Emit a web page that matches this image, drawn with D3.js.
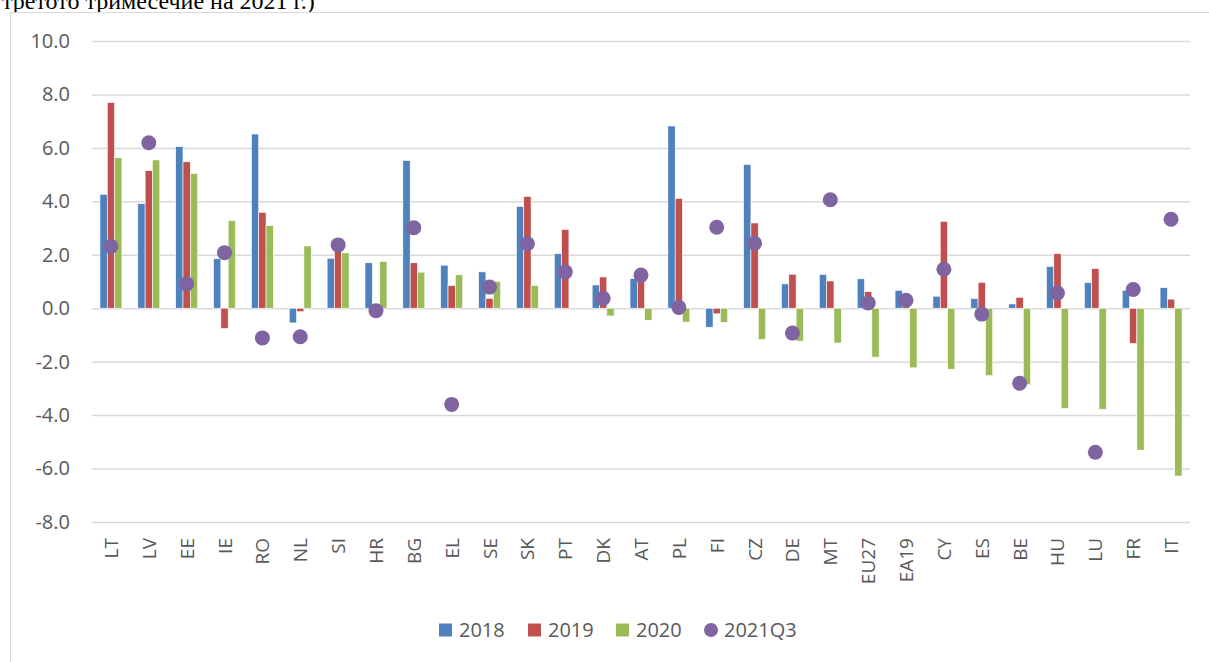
<!DOCTYPE html>
<html>
<head>
<meta charset="utf-8">
<script src="https://cdn.jsdelivr.net/npm/d3@7"></script>
<style>
  body { margin: 0; background: #fff; }
  svg { display: block; }
</style>
</head>
<body>
<svg width="1209" height="662"></svg>
<script>
// categories and series
const countries = ['LT','LV','EE','IE','RO','NL','SI','HR','BG','EL','SE','SK','PT','DK','AT','PL','FI','CZ','DE','MT','EU27','EA19','CY','ES','BE','HU','LU','FR','IT'];
const v2018 = [4.26,3.91,6.05,1.85,6.52,-0.55,1.87,1.70,5.53,1.61,1.36,3.81,2.04,0.87,1.11,6.82,-0.71,5.38,0.91,1.26,1.10,0.67,0.45,0.36,0.16,1.56,0.96,0.67,0.77];
const v2019 = [7.70,5.15,5.48,-0.76,3.59,-0.13,2.20,0.02,1.70,0.85,0.37,4.18,2.95,1.17,1.15,4.11,-0.21,3.19,1.27,1.02,0.62,0.50,3.25,0.97,0.41,2.04,1.48,-1.32,0.34];
const v2020 = [5.63,5.55,5.04,3.28,3.09,2.33,2.07,1.75,1.35,1.25,1.00,0.85,0.00,-0.29,-0.45,-0.52,-0.53,-1.17,-1.23,-1.30,-1.83,-2.23,-2.28,-2.52,-2.86,-3.75,-3.78,-5.31,-6.28];
const v2021q3 = [2.31,6.19,0.91,2.08,-1.11,-1.07,2.37,-0.09,3.01,-3.60,0.79,2.41,1.36,0.37,1.24,0.03,3.03,2.43,-0.93,4.06,0.20,0.30,1.46,-0.22,-2.81,0.57,-5.39,0.70,3.33];
const yTicks = [-8,-6,-4,-2,0,2,4,6,8,10];
const barSeries = ['2018','2019','2020'];
const dotSeries = '2021Q3';

const colors = {'2018':'#4f81bd','2019':'#c0504d','2020':'#9bbb59','2021Q3':'#8064a2'};

const svg = d3.select('svg');

// caption from the page above the chart (only its lower half shows)
svg.append('text')
    .attr('x', 2).attr('y', 9)
    .attr('font-family', '"Liberation Serif", serif')
    .attr('font-size', 24)
    .attr('fill', '#000')
    .text('третото тримесечие на 2021 г.)');

// chart frame
svg.append('rect')
    .attr('x', 10.5).attr('y', 12.5)
    .attr('width', 1250).attr('height', 700)
    .attr('fill', '#fff')
    .attr('stroke', '#d9d9d9');

const plot = {left: 92, right: 1190, top: 41, bottom: 522};

const x0 = d3.scaleBand().domain(countries).range([plot.left, plot.right]);
const bw = x0.bandwidth();
const gw = bw * 0.58;
const x1 = d3.scaleBand().domain(barSeries).range([(bw - gw) / 2, (bw + gw) / 2]);
const y = d3.scaleLinear().domain([-8, 10]).range([plot.bottom, plot.top]);

const font = '"Open Sans", sans-serif';
// plain hyphen for negatives, like the original
const fmt = d => d3.format('.1f')(d).replace('\u2212', '-');

// gridlines + y labels
const yAxis = svg.append('g')
    .attr('transform', `translate(${plot.left},0)`)
    .call(d3.axisLeft(y).tickValues(yTicks).tickSize(-(plot.right - plot.left)).tickPadding(22).tickFormat(fmt));
yAxis.select('.domain').remove();
yAxis.selectAll('.tick line').attr('stroke', '#d9d9d9').attr('stroke-width', 1.5);
yAxis.selectAll('.tick text')
    .attr('font-family', font).attr('font-size', 20).attr('fill', '#595959');

// bars
const rows = countries.map((c, i) => ({c, vals: [v2018[i], v2019[i], v2020[i]]}));
const groups = svg.append('g').selectAll('g').data(rows).enter().append('g')
    .attr('transform', d => `translate(${x0(d.c)},0)`);
groups.selectAll('rect')
    .data(d => d.vals.map((v, k) => ({s: barSeries[k], v})))
    .enter().append('rect')
    .attr('x', d => x1(d.s))
    .attr('width', x1.bandwidth())
    .attr('y', d => y(Math.max(0, d.v)))
    .attr('height', d => Math.abs(y(d.v) - y(0)))
    .attr('fill', d => colors[d.s])
    .attr('stroke', '#fff').attr('stroke-width', 0.6);

// 2021Q3 dots
svg.append('g').selectAll('circle').data(countries).enter().append('circle')
    .attr('cx', (d, i) => x0(d) + bw / 2)
    .attr('cy', (d, i) => y(v2021q3[i]))
    .attr('r', 7.5)
    .attr('fill', colors[dotSeries]);

// category labels, vertical
svg.append('g').selectAll('text').data(countries).enter().append('text')
    .attr('transform', d => `translate(${x0(d) + bw / 2 + 7},538) rotate(-90)`)
    .attr('text-anchor', 'end')
    .attr('font-family', font).attr('font-size', 19).attr('fill', '#595959')
    .text(d => d);

// legend
const legendItems = [...barSeries, dotSeries];
const legendX = [439, 528, 616, 704];
const lg = svg.append('g').selectAll('g').data(legendItems).enter().append('g')
    .attr('transform', (d, i) => `translate(${legendX[i]},630)`);
lg.each(function(d) {
    const g = d3.select(this);
    if (d === dotSeries) {
        g.append('circle').attr('cx', 7).attr('cy', 0).attr('r', 7).attr('fill', colors[d]);
    } else {
        g.append('rect').attr('x', 0).attr('y', -6.5).attr('width', 13).attr('height', 13).attr('fill', colors[d]);
    }
    g.append('text').attr('x', 20).attr('y', 7)
        .attr('font-family', font).attr('font-size', 20).attr('fill', '#595959')
        .text(d);
});
</script>
</body>
</html>
